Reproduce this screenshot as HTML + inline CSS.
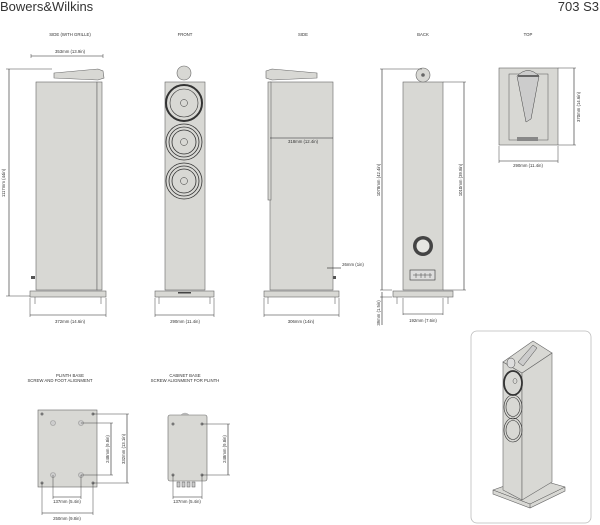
<!DOCTYPE html>
<html><head><meta charset="utf-8"><style>
html,body{margin:0;padding:0;background:#fff;}
svg{display:block;font-family:"Liberation Sans",sans-serif;}
.c{fill:#d8d8d4;stroke:#666;stroke-width:.6}
.l{stroke:#444;stroke-width:.5;fill:none}
.d{fill:none;stroke:#222;stroke-width:.6}
.t{font-size:4.3px;fill:#333;text-anchor:middle}
</style></head><body>
<svg width="600" height="525" viewBox="0 0 600 525" xmlns="http://www.w3.org/2000/svg">
<text x="0" y="11" font-size="13" fill="#333">Bowers&amp;Wilkins</text>
<text x="599" y="11" font-size="13" fill="#333" text-anchor="end">703 S3</text>
<text class="t" x="70" y="36">SIDE (WITH GRILLE)</text>
<text class="t" x="185" y="36">FRONT</text>
<text class="t" x="303" y="36">SIDE</text>
<text class="t" x="423" y="36">BACK</text>
<text class="t" x="528" y="36">TOP</text>

<!-- SIDE WITH GRILLE -->
<rect class="c" x="36" y="82" width="61" height="208"/>
<rect class="c" x="97" y="82" width="5" height="208"/>
<path class="c" d="M54 73 L98 69 L103 71 L104 78 L98 80 L54 78 Z"/>
<rect class="c" x="30" y="291" width="76" height="6"/>
<path class="l" d="M35 297v7M101 297v7"/>
<rect x="31" y="276" width="4" height="3" fill="#555"/>
<path class="l" d="M31 54v4M103 54v4"/><line class="d" x1="31" y1="56" x2="103" y2="56"/>
<text class="t" x="70" y="53">353mm (13.9in)</text>
<path class="l" d="M6 69h46M6 296h24"/><line class="d" x1="9" y1="69" x2="9" y2="296"/>
<text class="t" transform="translate(5 183) rotate(-90)">1117mm (44in)</text>
<path class="l" d="M30 298v19M106 298v19"/><line class="d" x1="30" y1="315" x2="106" y2="315"/>
<text class="t" x="70" y="323">372mm (14.6in)</text>

<!-- FRONT -->
<rect class="c" x="165" y="82" width="40" height="208"/>
<circle class="c" cx="184" cy="73" r="7"/>
<g fill="none" stroke="#333">
<circle cx="184" cy="103" r="18" stroke-width="2"/><circle cx="184" cy="103" r="14" stroke-width=".6"/><circle cx="184" cy="103" r="3.5" stroke-width=".5"/>
<circle cx="184" cy="142" r="18" stroke-width=".8"/><circle cx="184" cy="142" r="15" stroke-width=".8"/><circle cx="184" cy="142" r="12" stroke-width=".8"/><circle cx="184" cy="142" r="3.5" stroke-width=".5"/>
<circle cx="184" cy="181" r="18" stroke-width=".8"/><circle cx="184" cy="181" r="15" stroke-width=".8"/><circle cx="184" cy="181" r="12" stroke-width=".8"/><circle cx="184" cy="181" r="3.5" stroke-width=".5"/>
</g>
<rect class="c" x="155" y="291" width="59" height="6"/>
<rect x="178" y="292" width="13" height="1.5" fill="#444"/>
<path class="l" d="M159 297v7M210 297v7"/>
<path class="l" d="M155 298v19M214 298v19"/><line class="d" x1="155" y1="315" x2="214" y2="315"/>
<text class="t" x="185" y="323">290mm (11.4in)</text>

<!-- SIDE -->
<rect class="c" x="270" y="82" width="63" height="208"/>
<rect class="c" x="268" y="82" width="3" height="118"/>
<path class="c" d="M266 71 L272 69 L317 73 L317 78 L272 80 L266 78 Z"/>
<rect class="c" x="264" y="291" width="75" height="6"/>
<path class="l" d="M268 297v7M335 297v7"/>
<line class="d" x1="270" y1="138" x2="333" y2="138"/>
<text class="t" x="303" y="143">318mm (12.4in)</text>
<line class="d" x1="327" y1="268" x2="341" y2="268"/>
<text class="t" x="353" y="266">26mm (1in)</text>
<rect x="333" y="276" width="3" height="3" fill="#555"/>
<path class="l" d="M264 298v19M339 298v19"/><line class="d" x1="264" y1="315" x2="339" y2="315"/>
<text class="t" x="301" y="323">306mm (14in)</text>

<!-- BACK -->
<rect class="c" x="403" y="82" width="40" height="208"/>
<circle class="c" cx="423" cy="75" r="7"/><circle cx="423" cy="75" r="1.8" fill="#666"/>
<circle cx="423" cy="246" r="10" fill="#444"/><circle cx="423" cy="246" r="6.5" fill="#e6e6e2"/>
<rect x="410" y="270" width="25" height="10" fill="#ddd" stroke="#333" stroke-width=".6"/>
<path class="l" d="M413 275h19M416 273v5M421 273v5M425 273v5M430 273v5"/>
<rect class="c" x="393" y="291" width="60" height="6"/>
<path class="l" d="M397 297v7M448 297v7"/>
<path class="l" d="M380 69h42M380 290h12M380 297h12"/><line class="d" x1="382" y1="69" x2="382" y2="290"/>
<line class="d" x1="382" y1="292" x2="382" y2="325"/>
<text class="t" transform="translate(380 180) rotate(-90)">1078mm (42.4in)</text>
<text class="t" transform="translate(380 313) rotate(-90)">39mm (1.5in)</text>
<path class="l" d="M443 82h23M443 290h23"/><line class="d" x1="464" y1="82" x2="464" y2="290"/>
<text class="t" transform="translate(462 180) rotate(-90)">1010mm (39.8in)</text>
<path class="l" d="M403 298v17M443 298v17"/><line class="d" x1="403" y1="314" x2="443" y2="314"/>
<text class="t" x="423" y="322">192mm (7.6in)</text>

<!-- TOP -->
<rect class="c" x="499" y="68" width="59" height="77"/>
<rect x="509" y="74" width="39" height="66" fill="none" stroke="#555" stroke-width=".5"/>
<path d="M517 76 Q528 65 539 76 L531 119 L526 122 Z" fill="#ccc" stroke="#444" stroke-width=".5"/>
<rect x="518" y="75" width="21" height="2" fill="#666"/>
<rect x="517" y="137" width="21" height="4" fill="#888"/>
<path class="l" d="M558 68h18M558 145h18"/><line class="d" x1="574" y1="68" x2="574" y2="145"/>
<text class="t" transform="translate(580 107) rotate(-90)">370mm (14.6in)</text>
<path class="l" d="M499 146v17M558 146v17"/><line class="d" x1="499" y1="161" x2="558" y2="161"/>
<text class="t" x="528" y="167">290mm (11.4in)</text>

<!-- PLINTH BASE -->
<text class="t" x="70" y="377">PLINTH BASE</text>
<text class="t" x="60" y="382">SCREW AND FOOT ALIGNMENT</text>
<rect class="c" x="38" y="410" width="59" height="77"/>
<g fill="#777"><circle cx="42" cy="414" r="1.5"/><circle cx="93" cy="414" r="1.5"/><circle cx="42" cy="483" r="1.5"/><circle cx="93" cy="483" r="1.5"/></g>
<g fill="#ccc" stroke="#999" stroke-width=".6"><circle cx="53" cy="423" r="2.5"/><circle cx="81" cy="423" r="2.5"/><circle cx="53" cy="475" r="2.5"/><circle cx="81" cy="475" r="2.5"/></g>
<path class="l" d="M81 423h32M81 475h32M93 414h36M93 483h36"/>
<line class="d" x1="111" y1="423" x2="111" y2="475"/><line class="d" x1="127" y1="414" x2="127" y2="483"/>
<text class="t" transform="translate(109 449) rotate(-90)">248mm (9.8in)</text>
<text class="t" transform="translate(125 449) rotate(-90)">332mm (13.1in)</text>
<path class="l" d="M53 475v24M81 475v24M42 483v32M93 483v32"/>
<line class="d" x1="53" y1="497" x2="81" y2="497"/><line class="d" x1="42" y1="513" x2="93" y2="513"/>
<text class="t" x="67" y="503">137mm (5.4in)</text>
<text class="t" x="67" y="520">250mm (9.8in)</text>

<!-- CABINET BASE -->
<text class="t" x="185" y="377">CABINET BASE</text>
<text class="t" x="185" y="382">SCREW ALIGNMENT FOR PLINTH</text>
<path d="M180 416 Q185 410 190 416 Z" fill="#ccc" stroke="#999" stroke-width=".5"/>
<rect class="c" x="168" y="415" width="39" height="66" rx="2"/>
<g fill="#777"><circle cx="173" cy="424" r="1.5"/><circle cx="202" cy="424" r="1.5"/><circle cx="173" cy="475" r="1.5"/><circle cx="202" cy="475" r="1.5"/></g>
<g fill="#ccc" stroke="#555" stroke-width=".5"><rect x="177" y="482" width="3" height="5"/><rect x="182" y="482" width="3" height="5"/><rect x="187" y="482" width="3" height="5"/><rect x="192" y="482" width="3" height="5"/></g>
<path class="l" d="M202 424h28M202 475h28"/><line class="d" x1="228" y1="424" x2="228" y2="475"/>
<text class="t" transform="translate(226 449) rotate(-90)">248mm (9.8in)</text>
<path class="l" d="M173 475v24M202 475v24"/><line class="d" x1="173" y1="497" x2="202" y2="497"/>
<text class="t" x="187" y="503">137mm (5.4in)</text>

<!-- ISO -->
<rect x="471" y="331" width="120" height="192" rx="6" fill="#fff" stroke="#bbb" stroke-width=".8"/>
<path class="c" d="M493 490 L530 477 L565 487 L565 491 L530 508 L493 494 Z"/>
<path class="l" d="M493 490 L530 504 L565 487 M530 504v4"/>
<path class="c" d="M503 362 L522 373 L522 500 L503 490 Z"/>
<path class="c" d="M522 373 L552 353 L552 482 L522 500 Z"/>
<path class="c" d="M503 362 L533 341 L552 353 L522 373 Z"/>
<path d="M518 362 L533 345 L537 348 L523 366 Z" fill="#ccc" stroke="#444" stroke-width=".5"/>
<ellipse cx="511" cy="363" rx="4" ry="5" fill="#ddd" stroke="#444" stroke-width=".5"/>
<g fill="none" stroke="#333">
<ellipse cx="513" cy="383" rx="9" ry="12" stroke-width="1.8"/><ellipse cx="515" cy="381" rx="2" ry="2.5" stroke-width=".4"/>
<ellipse cx="513" cy="407" rx="9" ry="12" stroke-width=".6"/><ellipse cx="513" cy="407" rx="7" ry="9.5" stroke-width=".6"/>
<ellipse cx="513" cy="430" rx="9" ry="12" stroke-width=".6"/><ellipse cx="513" cy="430" rx="7" ry="9.5" stroke-width=".6"/>
</g>
</svg>
</body></html>
